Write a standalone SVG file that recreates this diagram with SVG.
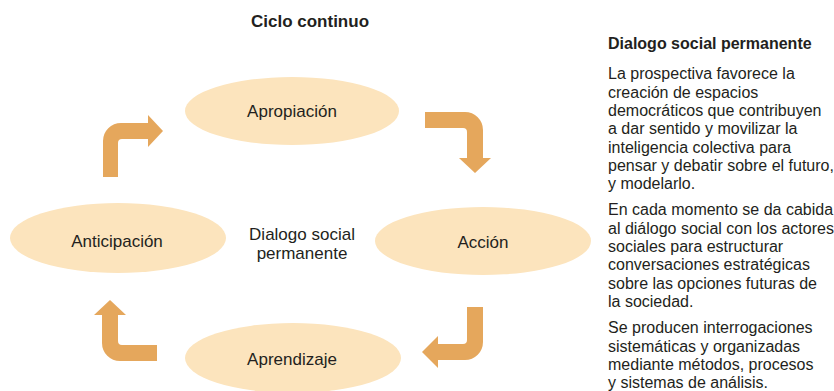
<svg xmlns="http://www.w3.org/2000/svg" width="834" height="391" viewBox="0 0 834 391">
<style>
  text { font-family: "Liberation Sans", Arial, sans-serif; fill: #231f20; }
  .title { font-size: 17px; font-weight: bold; text-anchor: middle; }
  .lbl { font-size: 17px; text-anchor: middle; }
  .node ellipse { fill: #fce4bd; }
  .arrow { fill: #e5a75c; }
  .ptitle { font-size: 16px; font-weight: bold; }
  .body { font-size: 16px; }
</style>
<rect width="834" height="391" fill="#ffffff"/>
<text class="title" x="310" y="27">Ciclo continuo</text>

<g id="apropiacion" class="node">
  <ellipse cx="292" cy="111" rx="107" ry="34"/>
  <text class="lbl" x="292" y="117">Apropiación</text>
</g>
<g id="accion" class="node">
  <ellipse cx="483" cy="241" rx="108" ry="34"/>
  <text class="lbl" x="483" y="248">Acción</text>
</g>
<g id="aprendizaje" class="node">
  <ellipse cx="293" cy="358" rx="108" ry="35"/>
  <text class="lbl" x="292" y="365">Aprendizaje</text>
</g>
<g id="anticipacion" class="node">
  <ellipse cx="118" cy="238" rx="108" ry="35"/>
  <text class="lbl" x="117" y="247">Anticipación</text>
</g>
<g id="centro">
  <text class="lbl" x="302" y="240">Dialogo social</text>
  <text class="lbl" x="302" y="259">permanente</text>
</g>

<g id="connectors">
  <path class="arrow" d="M103,177 L103,141 A18,18 0 0 1 121,123 L148,123 L148,115 L163,131 L148,147 L148,139 L122,139 A4,4 0 0 0 118,143 L118,177 Z"/>
  <path class="arrow" d="M425,112 L465,112 A18,18 0 0 1 483,130 L483,158 L491,158 L475,173 L459,158 L467,158 L467,132 A4,4 0 0 0 463,128 L425,128 Z"/>
  <path class="arrow" d="M467,307 L483,307 L483,342 A18,18 0 0 1 465,360 L438,360 L438,368 L422,352 L438,336 L438,344 L463,344 A4,4 0 0 0 467,340 Z"/>
  <path class="arrow" d="M157,345 L122,345 A4,4 0 0 1 118,341 L118,315 L126,315 L110,300 L94,315 L102,315 L102,343 A18,18 0 0 0 120,361 L157,361 Z"/>
</g>

<g id="panel">
  <text class="ptitle" x="608" y="49">Dialogo social permanente</text>
  <text class="body" x="608" y="79">La prospectiva favorece la</text>
  <text class="body" x="608" y="97.5">creación de espacios</text>
  <text class="body" x="608" y="116">democráticos que contribuyen</text>
  <text class="body" x="608" y="134">a dar sentido y movilizar la</text>
  <text class="body" x="608" y="152.5">inteligencia colectiva para</text>
  <text class="body" x="608" y="171">pensar y debatir sobre el futuro,</text>
  <text class="body" x="608" y="189">y modelarlo.</text>
  <text class="body" x="608" y="215">En cada momento se da cabida</text>
  <text class="body" x="608" y="233.5">al diálogo social con los actores</text>
  <text class="body" x="608" y="252">sociales para estructurar</text>
  <text class="body" x="608" y="270">conversaciones estratégicas</text>
  <text class="body" x="608" y="288.5">sobre las opciones futuras de</text>
  <text class="body" x="608" y="307">la sociedad.</text>
  <text class="body" x="608" y="333">Se producen interrogaciones</text>
  <text class="body" x="608" y="351.5">sistemáticas y organizadas</text>
  <text class="body" x="608" y="370">mediante métodos, procesos</text>
  <text class="body" x="608" y="388">y sistemas de análisis.</text>
</g>
</svg>
